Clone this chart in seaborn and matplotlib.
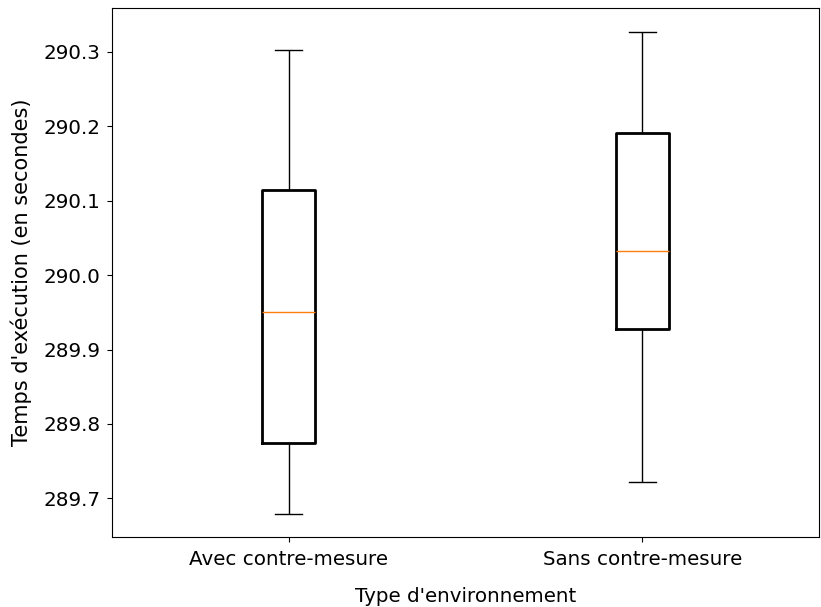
import numpy as np
import pandas as pd
import matplotlib
matplotlib.use("Agg")
import matplotlib.pyplot as plt
import seaborn as sns

categories = ["Avec contre-mesure", "Sans contre-mesure"]
# five-number summaries: min, Q1, median, Q3, max
avec = [289.679, 289.774, 289.950, 290.114, 290.303]
sans = [289.722, 289.928, 290.033, 290.191, 290.327]

df = pd.DataFrame({
    "env": [categories[0]] * len(avec) + [categories[1]] * len(sans),
    "t": avec + sans,
})

plt.rcParams["font.family"] = ["DejaVu Sans"]
plt.rcParams["font.size"] = 14.3

fig = plt.figure(figsize=(8.21, 6.07), dpi=100)
ax = fig.add_axes([112 / 821, 1 - 537 / 607, (819 - 112) / 821, (537 - 8) / 607])

sns.boxplot(
    data=df, x="env", y="t", ax=ax, order=categories,
    width=0.15, whis=np.inf, fill=False, color="black", linewidth=1.0,
    boxprops=dict(linewidth=2.0, color="black"),
    whiskerprops=dict(linewidth=1.0, color="black"),
    capprops=dict(linewidth=1.0, color="black"),
    medianprops=dict(linewidth=1.0, color="#ff7f0e"),
)

ax.set_xlabel("Type d'environnement", labelpad=13)
ax.set_ylabel("Temps d'exécution (en secondes)", fontsize=15, labelpad=8)
ax.set_yticks([289.7, 289.8, 289.9, 290.0, 290.1, 290.2, 290.3])
ax.set_yticklabels(["289.7", "289.8", "289.9", "290.0", "290.1", "290.2", "290.3"])
ax.tick_params(axis="x", pad=6)
ax.tick_params(axis="y", pad=5)
ax.set_ylim(289.648, 290.359)
ax.set_xlim(-0.5, 1.5)

fig.savefig("out.png", dpi=100)
